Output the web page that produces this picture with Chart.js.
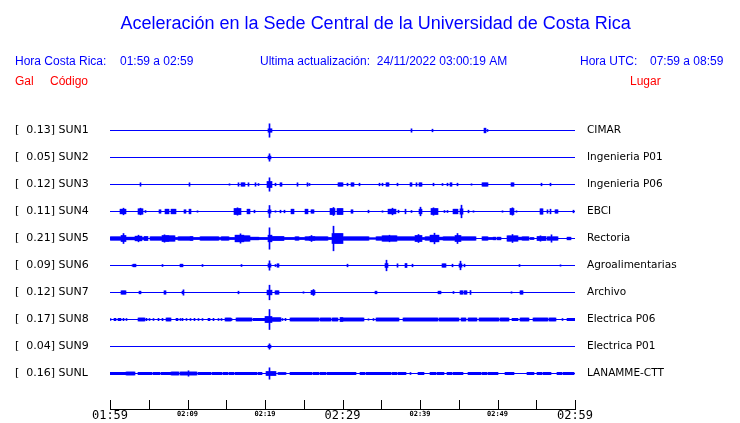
<!DOCTYPE html>
<html>
<head>
<meta charset="utf-8">
<script src="https://cdn.jsdelivr.net/npm/chart.js@4/dist/chart.umd.min.js"></script>
<style>
  html, body { margin: 0; padding: 0; background: #fff; }
  #wrap { position: relative; width: 740px; height: 423px; }
</style>
</head>
<body>
<div id="wrap"><canvas id="c" width="740" height="423"></canvas></div>
<script>
// ---------------- DATA ----------------
const stations = ['SUN1', 'SUN2', 'SUN3', 'SUN4', 'SUN5', 'SUN6', 'SUN7', 'SUN8', 'SUN9', 'SUNL'];
const peakGal  = ['0.13', '0.05', '0.12', '0.11', '0.21', '0.09', '0.12', '0.17', '0.04', '0.16'];
const places   = ['CIMAR', 'Ingenieria P01', 'Ingenieria P06', 'EBCI', 'Rectoria', 'Agroalimentarias',
                  'Archivo', 'Electrica P06', 'Electrica P01', 'LANAMME-CTT'];
const tickMinutes = [0, 10, 20, 30, 40, 50, 60];          // minutes after 01:59
const tickLabels  = ['01:59', '02:09', '02:19', '02:29', '02:39', '02:49', '02:59'];

// bursts: [start minute, end minute, half amplitude]
const sun1Bursts = [[20.6,20.6,6.7],[20.4,20.8,1.7],[38.9,38.9,1.7],[41.6,41.6,1.3],[48.3,48.4,2.3],[48.7,48.7,1]];
const sun2Bursts = [[20.6,20.6,3.7],[20.5,20.7,1.5]];
const sun3Bursts = [[3.9,3.9,1.7],[10.2,10.2,1.7],[15.4,15.4,0.7],[16.6,16.6,1.7],[17.0,17.3,1.7],[17.9,17.9,1.7],
  [18.8,18.8,1.7],[19.2,19.2,1],[20.3,20.9,3],[20.6,20.6,6.7],[21.4,21.4,1.3],[21.95,22.15,1.7],[24.2,24.2,1.7],
  [25.45,25.45,1.7],[25.75,25.75,1],[29.5,30.05,1.7],[30.6,30.6,1.3],[31.2,31.4,1.7],[32.2,32.2,1.3],[34.8,34.8,1.3],
  [35.2,35.2,1.3],[35.7,35.95,1.7],[37.1,37.1,1.3],[38.75,38.95,1.7],[39.5,39.5,1.7],[39.9,40.2,1.7],[41.8,41.8,1.3],
  [42.9,42.9,1],[43.6,43.6,1.3],[43.9,44.1,1.7],[44.9,44.9,1.3],[46.7,46.7,0.7],[48.05,48.65,1.7],[51.85,52.1,1.7],
  [55.7,55.7,1.3],[56.9,56.9,1.3]];
const sun4Bursts = [[1.4,2.0,2.3],[1.8,1.8,3.3],[3.65,4.2,2.7],[3.9,3.9,3.3],[4.6,4.6,1],[6.35,6.55,1.7],[7.1,7.55,2.3],
  [7.95,8.4,2.3],[9.6,9.8,1.7],[10.25,10.45,2.3],[11.3,11.3,0.7],[16.05,16.85,3],[16.45,16.45,3.7],[17.75,18.0,2.3],
  [18.7,18.7,1.3],[20.5,20.75,1.7],[20.6,20.6,6],[21.3,21.3,0.7],[22.05,22.05,1.3],[22.5,22.5,1.3],[23.45,23.65,2.3],
  [25.2,25.5,2.3],[26.05,26.2,1.7],[28.5,29.0,3],[28.8,28.8,4],[29.4,29.95,3],[31.1,31.3,1.7],[33.3,33.3,1.3],
  [35.2,35.2,0.7],[35.95,36.8,2.3],[36.4,36.4,3.3],[37.2,37.2,1.3],[38.15,38.15,2.3],[38.9,38.9,1],[39.95,40.15,2.3],
  [40.05,40.05,4.3],[41.45,42.2,3],[41.8,41.8,3.7],[43.2,43.2,1],[43.6,43.6,1],[44.35,44.9,2.3],[45.35,45.35,6.3],
  [45.25,45.45,2.7],[46.3,46.3,1.3],[46.95,46.95,0.7],[50.6,50.6,0.7],[51.7,52.1,3],[51.9,51.9,3.7],[52.45,52.45,0.7],
  [55.55,55.85,2.7],[56.5,56.5,1.7],[56.85,56.85,2.3],[57.5,57.8,1.7],[59.8,59.8,1.3]];
const sun5Bursts = [[0,1.5,1.7],[1.5,2.0,3],[1.7,1.7,5],[2.0,3.2,1.3],[3.3,4.1,2.3],[3.7,3.7,3.3],[4.2,4.4,1],[4.5,4.8,2],
  [5.25,6.7,1.7],[6.75,7.55,3],[7.0,7.0,3.7],[7.6,8.3,2.7],[8.4,8.8,1],[8.85,10.3,1.7],[10.35,10.65,2],[10.65,11.6,1],
  [11.65,14.0,1.7],[14.0,14.4,1],[14.45,15.3,1.7],[15.3,16.2,1],[16.25,17.2,3.3],[16.8,16.8,4.7],[17.2,17.95,2.7],
  [17.95,19.15,1.3],[19.15,20.45,1],[20.6,20.6,10.7],[20.45,20.9,3.3],[20.9,22.4,2],[22.4,23.9,1],[23.9,24.35,1.7],
  [24.35,25.1,1],[25.2,25.7,1.7],[25.7,26.4,2],[26.05,26.05,3],[26.4,28.0,1.7],[28.0,28.55,1],[28.85,28.85,12.3],
  [28.75,29.05,5],[29.05,29.95,5],[29.75,30.05,5],[30.05,33.4,1.7],[33.4,34.45,0.7],[34.45,35.1,1.7],[35.2,37.0,2.7],
  [36.1,36.1,3.3],[37.05,39.4,1.7],[39.4,40.25,3],[39.85,39.85,4],[40.25,40.7,1],[40.7,41.25,1.7],[41.35,42.4,3.3],
  [41.9,41.9,5.3],[42.4,43.05,1.3],[43.05,44.55,1.7],[44.55,45.2,3],[44.8,44.8,5],[45.2,47.15,1.7],[48.0,48.65,1.7],
  [48.9,49.3,1],[49.5,49.75,1.3],[49.95,50.4,1.3],[51.25,52.55,2.7],[51.9,51.9,4],[52.75,53.2,1.3],[53.2,54.05,1.7],
  [54.25,54.7,1],[55.1,56.2,2],[55.55,55.55,2.7],[56.4,57.7,1.7],[56.95,56.95,3.7],[59.0,59.45,1.3]];
const sun6Bursts = [[2.9,2.9,0.7],[3.05,3.35,1.3],[6.75,6.75,1],[9.15,9.35,1.3],[11.95,11.95,1],[16.95,16.95,1],
  [20.6,20.6,4.7],[20.5,20.75,1.7],[21.3,21.3,1],[21.55,21.75,1.7],[30.7,30.7,1.3],[35.7,35.7,5.3],[35.6,35.85,2],
  [37.05,37.05,1.7],[38.1,38.3,2],[39.0,39.0,1.3],[42.85,43.3,1.7],[44.25,44.25,1.3],[45.2,45.2,4.3],[45.1,45.3,1.7],
  [45.8,45.8,1.3],[52.85,52.85,1],[58.15,58.15,0.7]];
const sun7Bursts = [[1.5,2.0,1.7],[3.8,3.95,1.3],[7.0,7.2,1.7],[9.3,9.45,1.3],[9.5,9.5,2.7],[16.55,16.55,1.3],
  [20.35,20.9,2.3],[20.6,20.6,7.3],[21.3,21.75,1.7],[25.0,25.0,0.7],[26.05,26.4,2],[26.3,26.3,3],[34.25,34.4,1.3],
  [42.45,42.6,1.3],[44.35,44.35,1],[45.2,45.45,1.7],[45.8,46.0,1.7],[46.5,46.5,2],[51.85,51.85,0.7],[52.95,53.25,1.7]];
const sun8Bursts = [[0,0.05,1],[0.6,0.7,1.2],[1.05,1.4,1.2],[1.7,1.75,1.2],[2.15,2.15,1],[3.65,4.0,1.5],[4.1,4.4,1.5],
  [4.65,4.65,1.2],[5.05,5.05,1],[5.6,5.6,1],[6.2,6.3,1.2],[6.75,6.8,1.2],[7.3,7.75,1.5],[8.6,8.65,1.2],[9.05,9.05,1],
  [9.3,9.4,1.2],[9.9,9.9,1],[10.35,10.35,1],[10.85,10.95,1.2],[11.4,11.4,1],[11.95,11.95,1],[12.75,12.85,1.2],
  [13.3,13.4,1.2],[14.0,14.0,1],[14.45,14.45,1],[14.85,15.5,1.5],[15.7,15.7,1],[16.35,17.0,1.5],[17.15,17.6,1.5],
  [17.7,18.3,1.5],[18.5,18.9,1.2],[19.05,19.5,1.2],[19.6,20.0,1.2],[20.05,20.9,3],[20.6,20.6,10],[20.9,21.95,1.8],
  [22.2,22.2,1],[22.6,22.6,1.2],[23.25,23.9,1.5],[24.05,24.6,1.5],[24.75,25.2,1.5],[25.4,25.9,1.5],[26.05,26.9,1.5],
  [27.1,27.7,1.5],[27.85,28.5,1.5],[28.65,29.3,1.5],[29.7,29.95,2],[29.95,30.8,1.5],[30.95,31.7,1.5],[31.85,32.7,1.5],
  [33.4,33.4,0.7],[33.95,33.95,1],[34.45,35.1,1.5],[35.3,36.0,1.5],[36.15,36.7,1.5],[36.85,37.25,1.5],[37.9,38.5,1.5],
  [38.65,39.0,1.5],[39.2,39.9,1.5],[40.05,40.7,1.5],[40.85,41.55,1.5],[41.8,42.2,1.5],[42.55,43.3,1.5],[43.45,44.2,1.5],
  [44.35,45.0,1.5],[45.3,45.85,1.5],[46.3,46.8,1.5],[46.95,47.35,1.5],[47.7,48.2,1.5],[48.3,48.65,1.5],[48.9,49.5,1.5],
  [49.65,50.15,1.5],[50.4,51.45,1.5],[51.9,52.55,1.2],[52.95,53.5,1.5],[53.65,54.05,1.5],[54.7,55.5,1.5],
  [55.65,56.5,1.5],[56.65,57.5,1.5],[58.35,58.35,1],[59.0,59.4,1.2],[59.6,60,1.2]];
const sun9Bursts = [[20.6,20.6,2.7],[20.5,20.75,1.3]];
const sunlBursts = [[0,0.3,1.2],[0.4,0.65,1.2],[0.85,1.3,1.2],[1.45,1.95,1.2],[2.15,2.6,1.5],[2.75,3.15,1.5],
  [3.65,4.2,1.2],[4.35,4.8,1.2],[4.95,5.4,1.2],[5.6,6.0,1.2],[6.15,6.45,1.2],[6.7,7.2,1.2],[7.35,7.75,1.2],
  [7.9,8.4,1.5],[8.5,8.85,1.5],[9.05,9.7,1.5],[9.85,10.5,1.5],[10.1,10.1,2.7],[10.65,11.2,1.5],[11.4,12.3,1.2],
  [12.5,13.0,1.2],[13.2,13.7,1.2],[13.85,14.4,1.2],[14.6,15.2,1.2],[15.4,15.95,1.2],[16.15,16.8,1.2],[16.95,17.45,1.2],
  [17.65,18.2,1.2],[18.35,18.9,1.2],[19.1,19.6,1.2],[20.25,21.3,2],[20.6,20.6,5.7],[21.75,22.1,1],[22.3,22.6,1],
  [23.25,23.8,1.2],[23.95,24.6,1.2],[24.75,25.3,1.2],[25.5,26.05,1.2],[26.25,26.9,1.2],[27.1,27.8,1.2],[28.0,28.6,1.2],
  [28.75,29.3,1.2],[29.45,29.95,1.2],[30.1,30.8,1.2],[30.95,31.65,1.2],[32.3,32.9,1.2],[33.05,33.7,1.2],[33.85,34.5,1.2],
  [34.7,35.4,1.2],[35.55,36.2,1.2],[36.4,37.0,1.2],[37.2,38.1,1.2],[38.75,38.75,1],[39.85,40.5,1.2],[41.35,42.0,1.2],
  [42.2,43.05,1.2],[43.5,44.1,1.2],[44.3,45.45,1.2],[46.3,46.9,1.2],[47.05,47.8,1.2],[48.0,48.6,1.2],[48.8,49.95,1.2],
  [51.05,51.5,1.2],[51.65,52.1,1.2],[53.85,54.7,1.2],[55.15,55.7,1.2],[55.9,56.85,1.2],[57.7,58.3,1.2],[58.5,59.2,1.2],
  [59.35,59.85,1.2]];

const burstSets = [sun1Bursts, sun2Bursts, sun3Bursts, sun4Bursts, sun5Bursts,
                   sun6Bursts, sun7Bursts, sun8Bursts, sun9Bursts, sunlBursts];

// ---------------- BUILD ----------------
const SPAN = 60;              // minutes on the axis
const NBIN = 465;             // render resolution of the envelope
const BIN = SPAN / NBIN;
const GAIN = 1 / 27;          // amplitude units -> trace-spacing units
const Y_MIN = -27.5 / 27, Y_MAX = Y_MIN + 306 / 27;
const BLUE = '#0000ff';

function envelope(bursts) {
  const m = new Map();
  for (const [t0, t1, a] of bursts) {
    const k0 = Math.max(0, Math.floor(t0 / BIN));
    const k1 = Math.min(NBIN - 1, Math.floor(t1 / BIN));
    for (let k = k0; k <= k1; k++) m.set(k, Math.max(m.get(k) || 0, a));
  }
  return [...m.entries()].sort((p, q) => p[0] - q[0]).map(([k, a]) => ({ x: (k + 0.5) * BIN, a }));
}

const datasets = [];
stations.forEach((s, i) => {
  datasets.push({
    type: 'line', label: s + ' base', data: [{ x: 0, y: i }, { x: SPAN, y: i }],
    borderColor: BLUE, borderWidth: 1, pointRadius: 0, fill: false, order: 2, yAxisID: 'y'
  });
  datasets.push({
    type: 'bar', label: s,
    data: envelope(burstSets[i]).map(p => ({ x: p.x, y: [i - p.a * GAIN, i + p.a * GAIN] })),
    backgroundColor: BLUE, borderWidth: 0, barThickness: 1, grouped: false, order: 1, yAxisID: 'y'
  });
});

const noPad = s => { s.paddingTop = 0; s.paddingBottom = 0; s.paddingLeft = 0; s.paddingRight = 0; };

const headerPlugin = {
  id: 'header',
  afterDraw(chart) {
    const ctx = chart.ctx;
    ctx.save();
    ctx.textBaseline = 'alphabetic';
    ctx.textAlign = 'left';
    ctx.fillStyle = BLUE;
    ctx.font = '18px "Liberation Sans", Arial, sans-serif';
    ctx.fillText('Aceleración en la Sede Central de la Universidad de Costa Rica', 120.5, 29);
    ctx.font = '12px "Liberation Sans", Arial, sans-serif';
    ctx.fillText('Hora Costa Rica:', 15, 65);
    ctx.fillText('01:59 a 02:59', 120, 65);
    ctx.fillText('Ultima actualización:  24/11/2022 03:00:19 AM', 260, 65);
    ctx.fillText('Hora UTC:', 580, 65);
    ctx.fillText('07:59 a 08:59', 650, 65);
    ctx.fillStyle = '#ff0000';
    ctx.fillText('Gal', 15, 85);
    ctx.fillText('Código', 50, 85);
    ctx.fillText('Lugar', 630, 85);
    // upward tick marks on the time axis
    const xs = chart.scales.x;
    ctx.strokeStyle = '#000';
    ctx.lineWidth = 1;
    ctx.beginPath();
    xs.ticks.forEach(t => {
      const px = Math.round(xs.getPixelForValue(t.value)) + 0.5;
      ctx.moveTo(px, xs.top + 0.5);
      ctx.lineTo(px, xs.top - 9);
    });
    ctx.stroke();
    ctx.restore();
  }
};

new Chart(document.getElementById('c'), {
  type: 'bar',
  data: { datasets },
  options: {
    responsive: false, animation: false, events: [],
    layout: { padding: { top: 103, left: 15, right: 0, bottom: 0 } },
    plugins: { legend: { display: false }, tooltip: { enabled: false }, title: { display: false } },
    scales: {
      x: {
        type: 'linear', position: 'bottom', min: 0, max: SPAN, offset: false,
        afterFit: s => { s.height = 14; noPad(s); },
        grid: { display: false, drawTicks: false, offset: false },
        border: { display: true, color: '#000', width: 1 },
        ticks: {
          stepSize: 5, autoSkip: false, maxRotation: 0, minRotation: 0, padding: 0, color: '#000',
          font: ctx => (ctx.tick && ctx.tick.value % 30 === 0)
            ? { family: '"DejaVu Sans Mono"', size: 12, lineHeight: '13px' }
            : { family: '"DejaVu Sans Mono"', size: 7, weight: 'bold', lineHeight: '11px' },
          callback: v => { const k = tickMinutes.indexOf(v); return k >= 0 ? tickLabels[k] : ''; }
        }
      },
      y: {
        type: 'linear', position: 'left', reverse: true, min: Y_MIN, max: Y_MAX,
        afterBuildTicks: s => { s.ticks = stations.map((_, i) => ({ value: i })); },
        afterFit: s => { s.width = 95; noPad(s); },
        grid: { display: false, drawTicks: false }, border: { display: false },
        ticks: {
          crossAlign: 'far', padding: 0, color: '#000', autoSkip: false,
          font: { family: '"DejaVu Sans"', size: 11 },
          callback: v => Number.isInteger(v) ? '[  ' + peakGal[v] + '] ' + stations[v] : ''
        }
      },
      y2: {
        type: 'linear', position: 'right', reverse: true, min: Y_MIN, max: Y_MAX,
        afterBuildTicks: s => { s.ticks = places.map((_, i) => ({ value: i })); },
        afterFit: s => { s.width = 165; noPad(s); },
        grid: { display: false, drawTicks: false }, border: { display: false },
        ticks: {
          crossAlign: 'near', padding: 12, color: '#000', autoSkip: false,
          font: { family: '"DejaVu Sans"', size: 10.5 },
          callback: v => Number.isInteger(v) ? places[v] : ''
        }
      }
    }
  },
  plugins: [headerPlugin]
});
</script>
</body>
</html>
